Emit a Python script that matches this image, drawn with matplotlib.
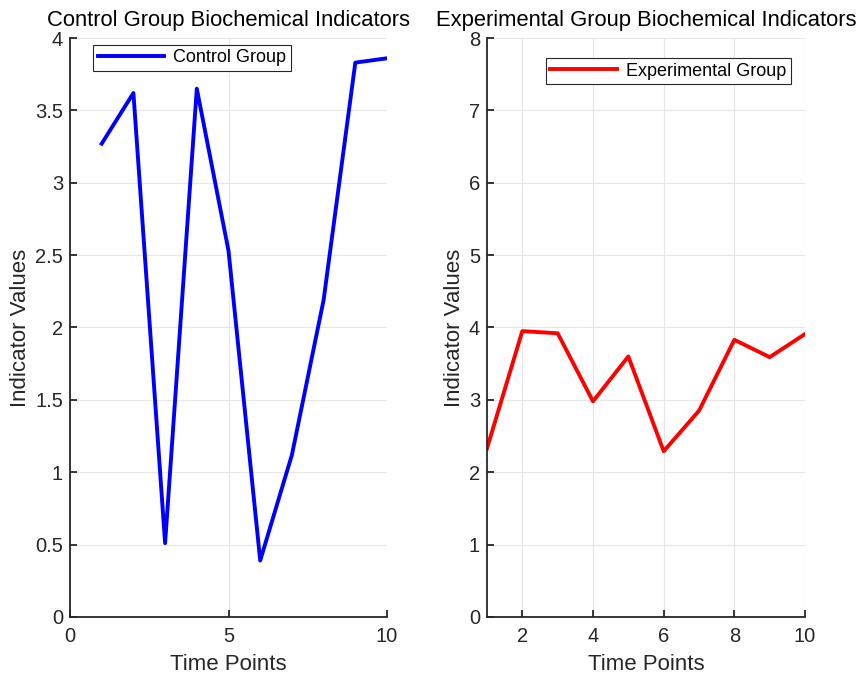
import matplotlib.pyplot as plt

time_points = [1, 2, 3, 4, 5, 6, 7, 8, 9, 10]
control_values = [3.27, 3.62, 0.51, 3.65, 2.53, 0.39, 1.12, 2.19, 3.83, 3.86]
experimental_values = [2.33, 3.95, 3.92, 2.98, 3.60, 2.29, 2.85, 3.83, 3.59, 3.91]

plt.rcParams['font.family'] = ['Liberation Sans', 'DejaVu Sans']
text_col = '#262626'

fig = plt.figure(figsize=(8.61, 6.74), dpi=100)
ax1 = fig.add_axes([0.0813, 0.0846, 0.3682, 0.859])
ax2 = fig.add_axes([0.5656, 0.0846, 0.3694, 0.859])


def style(ax):
    ax.spines['top'].set_visible(False)
    ax.spines['right'].set_visible(False)
    for s in ['left', 'bottom']:
        ax.spines[s].set_color(text_col)
        ax.spines[s].set_linewidth(1.3)
    ax.grid(True, color='#e6e6e6', linewidth=0.8)
    ax.set_axisbelow(True)
    ax.tick_params(direction='in', length=5, width=1.3, colors=text_col,
                   labelsize=14.5, pad=7)
    ax.tick_params(axis='y', pad=5)
    ax.set_xlabel('Time Points', fontsize=16, color=text_col, labelpad=6)
    ax.set_ylabel('Indicator Values', fontsize=16, color=text_col, labelpad=3)


ax1.plot(time_points, control_values, color='#0000ff', linewidth=2.8, label='Control Group')
ax1.set_xlim(0, 10)
ax1.set_ylim(0, 4)
ax1.set_xticks([0, 5, 10])
ax1.set_yticks([0, 0.5, 1, 1.5, 2, 2.5, 3, 3.5, 4])
ax1.set_yticklabels(['0', '0.5', '1', '1.5', '2', '2.5', '3', '3.5', '4'])
style(ax1)
ax1.set_title('Control Group Biochemical Indicators', fontsize=15.8, color='black', pad=9)
leg1 = ax1.legend(loc='upper left', bbox_to_anchor=(0.0726, 0.988), fontsize=13,
                  fancybox=False, framealpha=1, edgecolor=text_col,
                  handlelength=3.7, borderpad=0.25, handletextpad=0.5,
                  borderaxespad=0)
leg1.get_frame().set_linewidth(0.8)

ax2.plot(time_points, experimental_values, color='#ff0000', linewidth=2.8, label='Experimental Group')
ax2.set_xlim(1, 10)
ax2.set_ylim(0, 8)
ax2.set_xticks([2, 4, 6, 8, 10])
ax2.set_yticks(range(0, 9))
style(ax2)
ax2.set_title('Experimental Group Biochemical Indicators', fontsize=15.8, color='black', pad=9)
leg2 = ax2.legend(loc='upper right', bbox_to_anchor=(0.956, 0.9655), fontsize=13,
                  fancybox=False, framealpha=1, edgecolor=text_col,
                  handlelength=3.7, borderpad=0.25, handletextpad=0.5,
                  borderaxespad=0)
leg2.get_frame().set_linewidth(0.8)

fig.savefig('out.png', dpi=100)
